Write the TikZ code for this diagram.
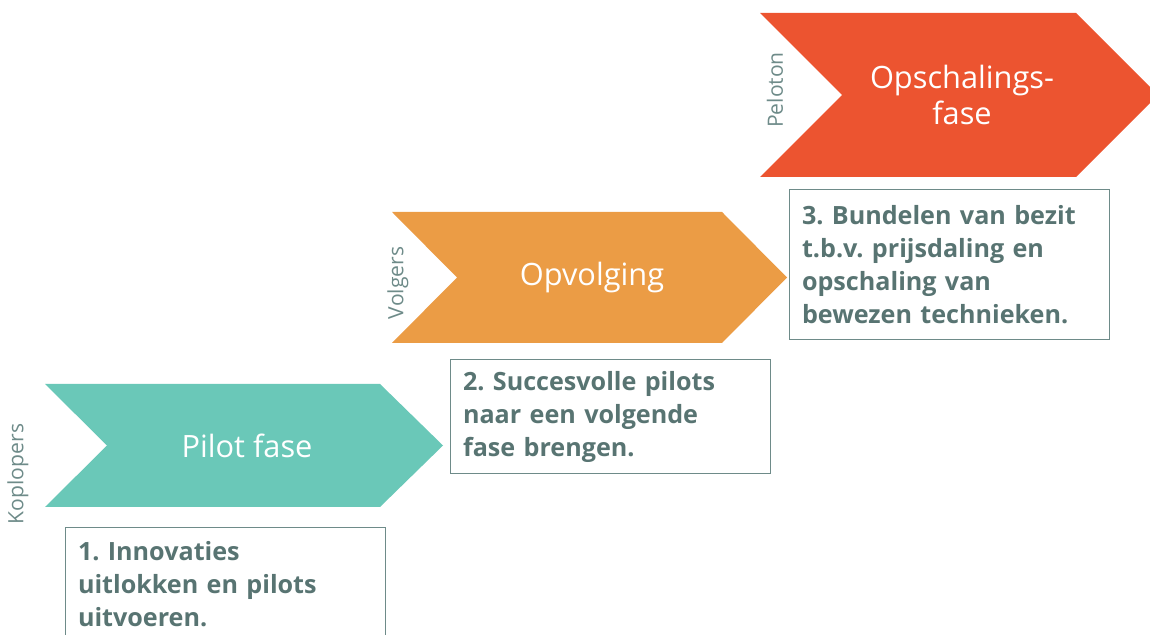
\documentclass[tikz,border=0pt]{standalone}
\usepackage{fontspec}
\setmainfont{Open Sans}
\usepackage{xcolor}
\usetikzlibrary{positioning}
\definecolor{koploper}{RGB}{106,200,184}
\definecolor{volger}{RGB}{235,156,69}
\definecolor{peloton}{RGB}{236,84,48}
\definecolor{grijsgroen}{RGB}{88,116,114}
\definecolor{kader}{RGB}{110,139,137}
\frenchspacing

\tikzset{
    fase/.style={text=white, font=\fontsize{17.5}{21}\selectfont, align=center},
    rol/.style={text=kader, rotate=90, font=\fontsize{12}{14}\selectfont},
    taak/.style={draw=kader, line width=0.6pt, anchor=north west, minimum width=6.4cm, text width=5.9cm, inner xsep=0.25cm, align=left, text=grijsgroen, font=\fontsize{14.3}{18.8}\selectfont\bfseries}
}

\begin{document}
\begin{tikzpicture}
    \useasboundingbox (0,0) rectangle (23,12.7);

    % pijlen
    \fill[koploper] (0.9,5.02) -- (7.6,5.02) -- (8.86,3.79) -- (7.6,2.56) -- (0.9,2.56) -- (2.14,3.79) -- cycle;
    \fill[volger] (7.84,8.46) -- (14.44,8.46) -- (15.74,7.15) -- (14.44,5.84) -- (7.84,5.84) -- (9.14,7.15) -- cycle;
    \fill[peloton] (15.2,12.44) -- (21.52,12.44) -- (23.16,10.8) -- (21.52,9.16) -- (15.2,9.16) -- (16.84,10.8) -- cycle;

    \node[fase] (pilot) at (4.94,3.79) {Pilot fase};
    \node[fase] (opvolging) at (11.84,7.15) {Opvolging};
    \node[fase] (opschaling) at (19.24,10.8) {Opschalings-\\fase};

    \node[rol] (koplopers) at (0.36,3.22) {Koplopers};
    \node[rol] (volgers) at (7.96,7.04) {Volgers};
    \node[rol] (pelotonlbl) at (15.5,10.9) {Peloton};

    % kaders
    \node[taak, minimum height=2.28cm] (stap1) at (1.3,2.16) {1. Innovaties\\uitlokken en pilots\\uitvoeren.};
    \node[taak, minimum height=2.28cm] (stap2) at (9.0,5.52) {2. Succesvolle pilots\\naar een volgende\\fase brengen.};
    \node[taak, minimum height=3.0cm] (stap3) at (15.78,8.92) {3. Bundelen van bezit\\t.b.v. prijsdaling en\\opschaling van\\bewezen technieken.};
\end{tikzpicture}
\end{document}
